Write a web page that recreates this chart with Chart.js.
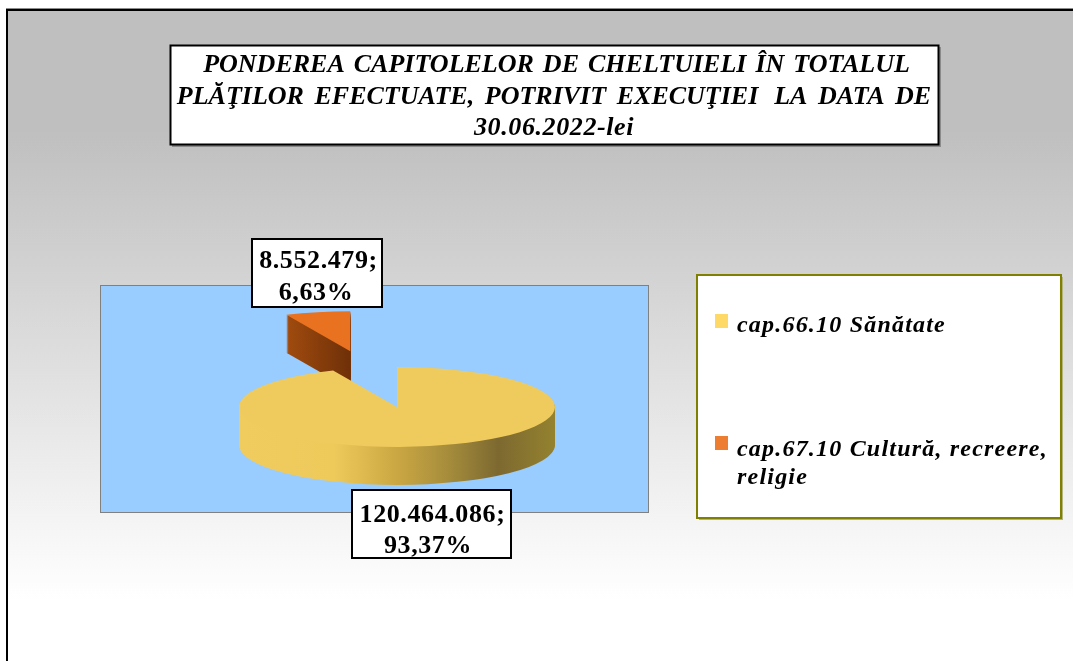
<!DOCTYPE html>
<html>
<head>
<meta charset="utf-8">
<script src="https://cdn.jsdelivr.net/npm/chart.js@4/dist/chart.umd.js"></script>
<style>
html, body { margin: 0; padding: 0; background: #fff; overflow: hidden; }
#chart { display: block; filter: blur(0.35px); }
</style>
</head>
<body>
<canvas id="chart" width="1073" height="661"></canvas>
<script>
const categories = ["cap.66.10 Sănătate", "cap.67.10 Cultură, recreere, religie"]
const legendLines = [["cap.66.10 Sănătate"], ["cap.67.10 Cultură, recreere,", "religie"]]
const seriesValues = [120464086, 8552479]
const valueLabels = ["120.464.086;", "8.552.479;"]
const percentLabels = ["93,37%", "6,63%"]
const titleLines = [
    "PONDEREA  CAPITOLELOR  DE  CHELTUIELI  ÎN  TOTALUL",
    "PLĂŢILOR  EFECTUATE,  POTRIVIT  EXECUŢIEI   LA  DATA  DE",
    "30.06.2022-lei"
]

const topColors = ["#efcb5e", "#e8721f"]
const legendColors = ["#ffd966", "#ed7d31"]
const wallStops = [
    [[0, "#f0cc5f"], [0.3, "#eeca5b"], [0.5, "#cba743"], [0.66, "#a68d3c"], [0.82, "#7d6930"], [1, "#94822f"]],
    [[0.3, "#a04b0e"], [0.5, "#6f3008"]]
]

const explodedSlice = 1   // index of the slice pulled out of the pie
const explodeBy = 226     // px, before flattening
const squash = 0.2525     // how flat the disc looks
const depth = 38          // height of the disc in px
const serif = '"Liberation Serif", "Times New Roman", serif'

function box(ctx, x, y, w, h, color, lw){
    ctx.fillStyle = "#fff"
    ctx.fillRect(x, y, w, h)
    ctx.strokeStyle = color
    ctx.lineWidth = lw
    ctx.strokeRect(x, y, w, h)
}

function text(ctx, str, x, y, font, align, spacing, wordSpacing){
    ctx.font = font
    ctx.textAlign = align
    ctx.textBaseline = "alphabetic"
    ctx.letterSpacing = spacing || "0px"
    ctx.wordSpacing = wordSpacing || "0px"
    ctx.fillStyle = "#000"
    ctx.fillText(str, x, y)
    ctx.letterSpacing = "0px"
    ctx.wordSpacing = "0px"
}

// gradient page, blue plot rectangle and the frame
const backdrop = {
    id: "backdrop",
    beforeDraw(chart){
        const ctx = chart.ctx
        const g = ctx.createLinearGradient(0, 130, 0, 600)
        g.addColorStop(0, "#bfbfbf")
        g.addColorStop(1, "#ffffff")
        ctx.fillStyle = g
        ctx.fillRect(8, 10, 1065, 651)
        ctx.fillStyle = "#8c8c8c"
        ctx.fillRect(6, 8, 1067, 1)
        ctx.fillStyle = "#000"
        ctx.fillRect(6, 9, 1067, 2)
        ctx.fillRect(6, 9, 2, 652)
        ctx.fillStyle = "#99ccff"
        ctx.fillRect(100, 285, 549, 228)
        ctx.strokeStyle = "#808080"
        ctx.lineWidth = 1
        ctx.strokeRect(100.5, 285.5, 548, 227)
    }
}

function flatten(ctx, cy, dy){
    ctx.translate(0, cy + dy)
    ctx.scale(1, squash)
    ctx.translate(0, -cy)
}

// pulls one slice out, squashes the pie and stacks copies of each slice under it for the 3d side
const disc = {
    id: "disc",
    afterDatasetsUpdate(chart){
        const arc = chart.getDatasetMeta(0).data[explodedSlice]
        const mid = (arc.startAngle + arc.endAngle) / 2
        arc.x += Math.cos(mid) * explodeBy
        arc.y += Math.sin(mid) * explodeBy
    },
    beforeDatasetDraw(chart){
        const ctx = chart.ctx
        const arcs = chart.getDatasetMeta(0).data
        const cy = (chart.chartArea.top + chart.chartArea.bottom) / 2
        ctx.save()
        arcs.forEach((arc, n) => {
            const g = ctx.createLinearGradient(arc.x - arc.outerRadius, 0, arc.x + arc.outerRadius, 0)
            wallStops[n].forEach(s => g.addColorStop(s[0], s[1]))
            for(let i = depth; i > 0; i--){
                ctx.save()
                flatten(ctx, cy, i)
                ctx.beginPath()
                ctx.moveTo(arc.x, arc.y)
                ctx.arc(arc.x, arc.y, arc.outerRadius, arc.startAngle, arc.endAngle)
                ctx.closePath()
                ctx.fillStyle = g
                ctx.fill()
                ctx.restore()
            }
        })
        flatten(ctx, cy, 0)
    },
    afterDatasetDraw(chart){
        chart.ctx.restore()
    }
}

// title, value boxes and legend box
const overlay = {
    id: "overlay",
    afterDraw(chart){
        const ctx = chart.ctx
        const titleFont = "italic bold 26px " + serif
        const labelFont = "bold 26px " + serif
        const legendFont = "italic bold 24px " + serif

        ctx.fillStyle = "#8a8a8a"
        ctx.fillRect(172, 47, 769, 100)
        box(ctx, 170.5, 45.5, 768, 99, "#000", 2)
        text(ctx, titleLines[0], 556.5, 72, titleFont, "center", "0px", "-2px")
        text(ctx, titleLines[1], 554, 104, titleFont, "center", "0px", "-1.2px")
        text(ctx, titleLines[2], 554, 135, titleFont, "center", "0.6px")

        box(ctx, 252, 239, 130, 68, "#000", 2)
        text(ctx, valueLabels[1], 318.5, 268, labelFont, "center", "0.6px")
        text(ctx, percentLabels[1], 316, 300, labelFont, "center", "0.6px")
        box(ctx, 352, 490, 159, 68, "#000", 2)
        text(ctx, valueLabels[0], 432.5, 522, labelFont, "center", "0.6px")
        text(ctx, percentLabels[0], 428, 553, labelFont, "center", "0.6px")

        ctx.fillStyle = "#b3b380"
        ctx.fillRect(699, 277, 364, 243)
        box(ctx, 697, 275, 364, 243, "#808000", 2)
        ctx.fillStyle = legendColors[0]
        ctx.fillRect(715, 314, 13, 14)
        ctx.fillStyle = legendColors[1]
        ctx.fillRect(715, 436, 13, 14)
        text(ctx, legendLines[0][0], 737, 332, legendFont, "left", "1.2px")
        text(ctx, legendLines[1][0], 737, 456, legendFont, "left", "1.2px")
        text(ctx, legendLines[1][1], 737, 484, legendFont, "left", "1.2px")
    }
}

new Chart(document.getElementById("chart"), {
    type: "pie",
    data: {
        labels: categories,
        datasets: [{
            data: seriesValues,
            backgroundColor: topColors,
            borderWidth: 0,
            radius: 158,
            clip: false
        }]
    },
    options: {
        responsive: false,
        animation: false,
        layout: { padding: { top: 153, right: 279 } },
        plugins: { legend: { display: false }, title: { display: false }, tooltip: { enabled: false } }
    },
    plugins: [backdrop, disc, overlay]
})
</script>
</body>
</html>
